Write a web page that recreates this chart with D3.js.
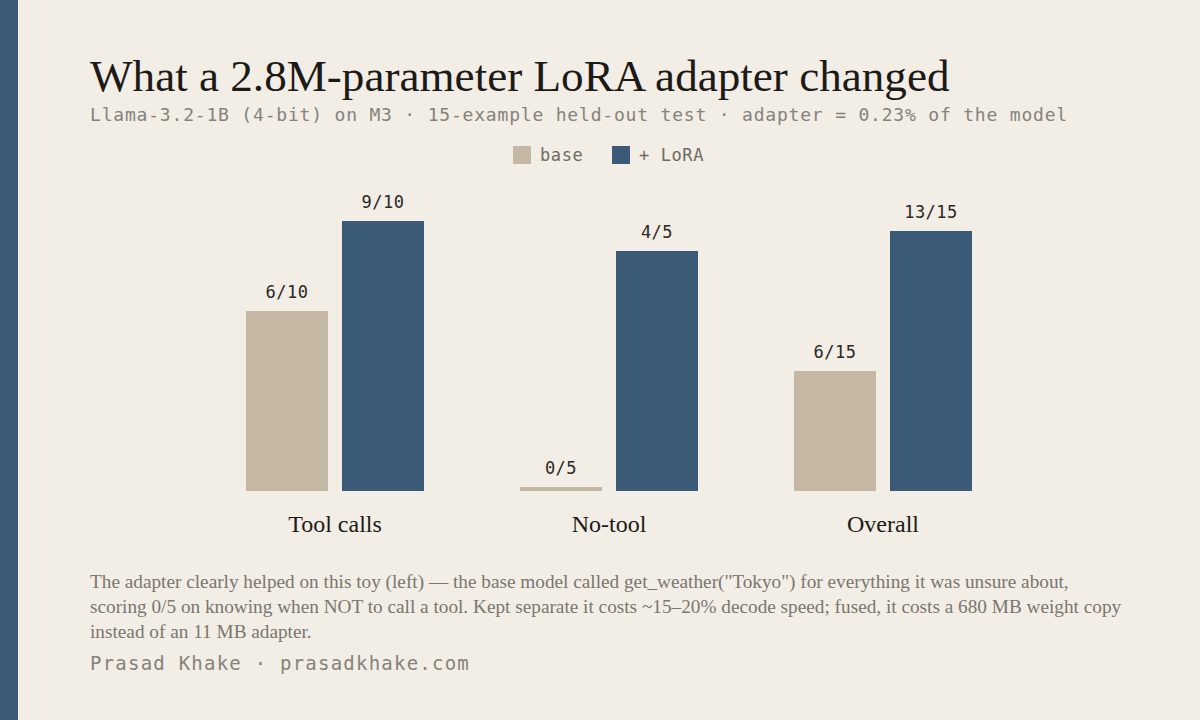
<!DOCTYPE html>
<html>
<head>
<meta charset="utf-8">
<script src="https://cdn.jsdelivr.net/npm/d3@7"></script>
<style>
  html, body { margin: 0; padding: 0; background: #f2ede5; }
  svg { display: block; }
</style>
</head>
<body>
<svg id="chart" width="1200" height="720"></svg>
<script>
// data
var categories = ["Tool calls", "No-tool", "Overall"];
var series = ["base", "+ LoRA"];
var correct = [[6, 9], [0, 4], [6, 13]];
var totals = [10, 5, 15];

var title_text = "What a 2.8M-parameter LoRA adapter changed";
var subtitle_text = "Llama-3.2-1B (4-bit) on M3 \u00b7 15-example held-out test \u00b7 adapter = 0.23% of the model";
var note_lines = [
  "The adapter clearly helped on this toy (left) \u2014 the base model called get_weather(\"Tokyo\")  for everything it was unsure about,",
  "scoring 0/5 on knowing when NOT to call a tool. Kept separate it costs ~15\u201320% decode speed; fused, it costs a 680 MB weight copy",
  "instead of an 11 MB adapter."
];
var byline = "Prasad Khake \u00b7 prasadkhake.com";

var colors = ["#c4b7a3", "#3b5a78"];
var serif = "'Liberation Serif', 'DejaVu Serif', serif";
var mono = "'DejaVu Sans Mono', 'Liberation Mono', monospace";

var svg = d3.select("#chart");

svg.append("rect").attr("width", 1200).attr("height", 720).attr("fill", "#f2ede5");
svg.append("rect").attr("width", 18).attr("height", 720).attr("fill", "#3b5a78");

// squeeze / stretch a text node to a target width
function fit_width(sel, w) {
  var len = sel.node().getComputedTextLength();
  var fs = parseFloat(sel.style("font-size"));
  sel.style("font-size", (fs * w / len) + "px");
  return fs * w / len;
}

// same, but through letter spacing (for the mono lines)
function fit_spacing(sel, w) {
  var len = sel.node().getComputedTextLength();
  var n = sel.text().length;
  sel.style("letter-spacing", ((w - len) / n) + "px");
}

var title = svg.append("text")
    .attr("x", 90).attr("y", 91)
    .style("font-family", serif)
    .style("font-size", "40px")
    .style("fill", "#1c1a17")
    .text(title_text);
fit_width(title, 860);

var subtitle = svg.append("text")
    .attr("x", 90).attr("y", 121)
    .style("font-family", mono)
    .style("font-size", "18px")
    .style("fill", "#85827c")
    .text(subtitle_text);
fit_spacing(subtitle, 978);

// legend
var legend = svg.append("g");
var leg_x = [513, 612];
series.forEach(function(s, i) {
  legend.append("rect")
      .attr("x", leg_x[i]).attr("y", 146)
      .attr("width", 18).attr("height", 18)
      .attr("fill", colors[i]);
  legend.append("text")
      .attr("x", leg_x[i] + 27).attr("y", 161)
      .style("font-family", mono)
      .style("font-size", "17px")
      .style("letter-spacing", "0.6px")
      .style("fill", "#6e6b66")
      .text(s);
});

var rows = categories.map(function(c, i) {
  return series.map(function(s, j) {
    return {cat: c, series: s, idx: j, n: correct[i][j], total: totals[i], value: correct[i][j] / totals[i]};
  });
});

var x0 = d3.scaleBand()
    .domain(categories)
    .range([198, 1020])
    .paddingInner(0.3504)
    .paddingOuter(0.1752);

var x1 = d3.scaleBand()
    .domain(series)
    .range([0, x0.bandwidth()])
    .paddingInner(0.1458)
    .paddingOuter(0);

var y = d3.scaleLinear()
    .domain([0, 1])
    .range([491, 191]);

var groups = svg.selectAll(".group")
    .data(rows)
  .enter().append("g")
    .attr("class", "group")
    .attr("transform", function(d, i) { return "translate(" + x0(categories[i]) + ",0)"; });

// zero values still get a thin stub
groups.selectAll("rect")
    .data(function(d) { return d; })
  .enter().append("rect")
    .attr("x", function(d) { return x1(d.series); })
    .attr("width", x1.bandwidth())
    .attr("y", function(d) { return Math.min(y(d.value), y(0) - 4); })
    .attr("height", function(d) { return Math.max(y(0) - y(d.value), 4); })
    .attr("fill", function(d) { return colors[d.idx]; });

groups.selectAll("text.val")
    .data(function(d) { return d; })
  .enter().append("text")
    .attr("class", "val")
    .attr("x", function(d) { return x1(d.series) + x1.bandwidth() / 2; })
    .attr("y", function(d) { return Math.min(y(d.value), y(0) - 4) - 13; })
    .attr("text-anchor", "middle")
    .style("font-family", mono)
    .style("font-size", "17px")
    .style("letter-spacing", "0.5px")
    .style("fill", "#2a2825")
    .text(function(d) { return d.n + "/" + d.total; });

// category axis, no line or ticks
var xAxis = svg.append("g")
    .attr("transform", "translate(0,491)")
    .call(d3.axisBottom(x0).tickSize(0).tickPadding(41));
xAxis.select(".domain").remove();
xAxis.selectAll("text")
    .attr("dy", 0)
    .style("font-family", serif)
    .style("font-size", "24px")
    .style("fill", "#1c1a17");

var note = svg.append("g");
var note_text = note.selectAll("text")
    .data(note_lines)
  .enter().append("text")
    .attr("x", 90)
    .attr("y", function(d, i) { return 588 + i * 25; })
    .style("font-family", serif)
    .style("font-size", "17px")
    .style("fill", "#7a7670")
    .text(function(d) { return d; });
var note_fs = fit_width(d3.select(note_text.nodes()[1]), 1032);
note_text.style("font-size", note_fs + "px");

var by = svg.append("text")
    .attr("x", 90).attr("y", 670)
    .style("font-family", mono)
    .style("font-size", "19px")
    .style("fill", "#85827c")
    .text(byline);
fit_spacing(by, 380);
</script>
</body>
</html>
